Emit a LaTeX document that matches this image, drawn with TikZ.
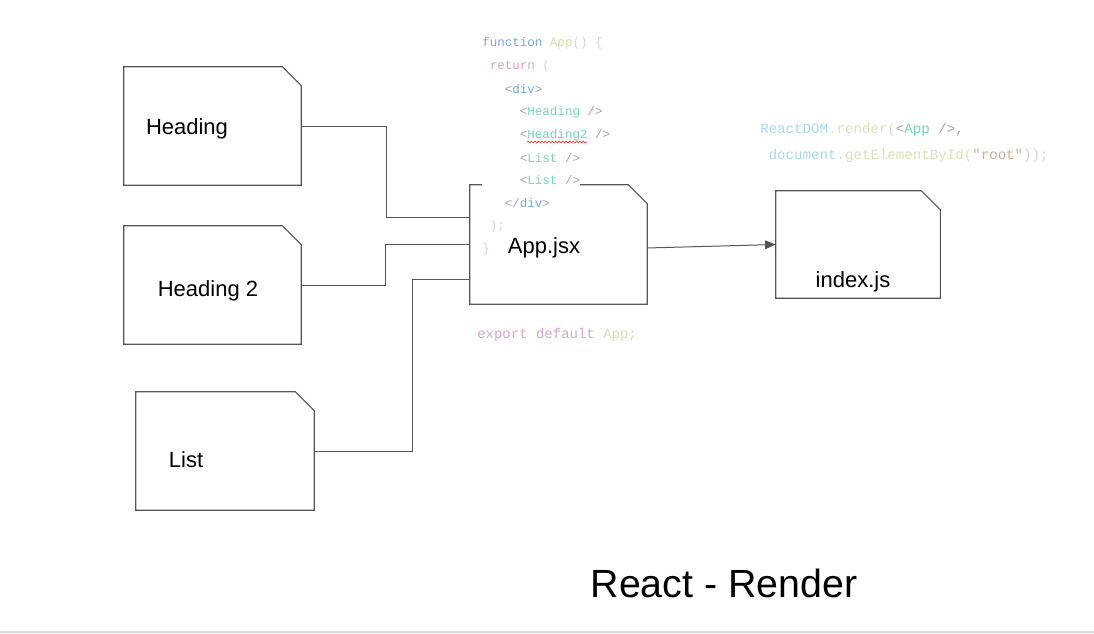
\documentclass[tikz,border=0pt]{standalone}
\usepackage{fontspec}
\setmainfont{Liberation Sans}
\newfontfamily\codefont{Liberation Mono}
\usetikzlibrary{arrows.meta,decorations.pathmorphing}
\definecolor{edgecol}{HTML}{555555}
\definecolor{kwblue}{HTML}{78A9DE}
\definecolor{kwpink}{HTML}{D9A2D4}
\definecolor{appyel}{HTML}{D9DCAE}
\definecolor{tagteal}{HTML}{74D6BF}
\definecolor{punct}{HTML}{A5A5A5}
\definecolor{faint}{HTML}{D5D5D5}
\definecolor{domblue}{HTML}{A9D9F2}
\definecolor{fnyel}{HTML}{DFDFBA}
\definecolor{strcol}{HTML}{D9AA92}

\begin{document}
\begin{tikzpicture}[x=0.75pt,y=-0.75pt,
    doc/.style={minimum width=132.75pt,minimum height=88.5pt,inner sep=0pt},
    outline/.style={draw=edgecol,line width=0.8pt},
    boxlabel/.style={font=\fontsize{16.5}{18}\selectfont},
    code/.style={anchor=west,fill=white,inner xsep=0pt,inner ysep=1pt,
        font=\codefont\fontsize{9.4}{11}\selectfont},
    wire/.style={draw=edgecol,line width=0.75pt}]
    \useasboundingbox (0,0) rectangle (1094,633);

    \node[doc] (heading) at (212.5,126) {};
    \node[doc] (headingtwo) at (212.5,285) {};
    \node[doc,minimum width=133.5pt] (list) at (225,451) {};
    \node[doc,minimum height=89.25pt] (app) at (558.5,244.5) {};
    \node[doc,minimum width=123pt,minimum height=80.25pt] (index) at (858,244.5) {};

    \foreach \n in {heading,headingtwo,list,app,index}
        \draw[outline] (\n.north west) -- ([xshift=-14.25pt]\n.north east)
            -- ([yshift=-14.25pt]\n.north east) -- (\n.south east)
            -- (\n.south west) -- cycle;

    \node[boxlabel] (headinglabel) at (187,129) {Heading};
    \node[boxlabel] (headingtwolabel) at (208,291) {Heading 2};
    \node[boxlabel] (listlabel) at (186,460) {List};
    \node[boxlabel] (applabel) at (544,248) {App.jsx};
    \node[boxlabel] (indexlabel) at (853,282) {index.js};

    \draw[wire] (heading.east) -- ++(85,0) |- ([yshift=19.9pt]app.west);
    \draw[wire] (headingtwo.east) -- ++(84,0) |- (app.west);
    \draw[wire] (list.east) -- ++(98,0) |- ([yshift=-26.6pt]app.west);
    \draw[wire,-{Triangle[length=8pt,width=6.5pt]}] ([yshift=-2.6pt]app.east) -- (index.west);

    \node[code] (c1) at (482,43) {\textcolor{kwblue}{function} \textcolor{appyel}{App}\textcolor{faint}{() \{}};
    \node[code] (c2) at (482,66) {\ \textcolor{kwpink}{return} \textcolor{faint}{(}};
    \node[code] (c3) at (482,89) {\ \ \ \textcolor{punct}{<}\textcolor{kwblue}{div}\textcolor{punct}{>}};
    \node[code] (c4) at (482,112) {\ \ \ \ \ \textcolor{punct}{<}\textcolor{tagteal}{Heading} \textcolor{punct}{/>}};
    \node[code] (c5) at (482,135) {\ \ \ \ \ \textcolor{punct}{<}\textcolor{tagteal}{Heading2} \textcolor{punct}{/>}};
    \node[code] (c6) at (482,158) {\ \ \ \ \ \textcolor{punct}{<}\textcolor{tagteal}{List} \textcolor{punct}{/>}};
    \node[code] (c7) at (482,180) {\ \ \ \ \ \textcolor{punct}{<}\textcolor{tagteal}{List} \textcolor{punct}{/>}};
    \node[code] (c8) at (482,203) {\ \ \ \textcolor{punct}{</}\textcolor{kwblue}{div}\textcolor{punct}{>}};
    \node[code] (c9) at (482,226) {\ \textcolor{faint}{);}};
    \node[code] (c10) at (482,249) {\textcolor{faint}{\}}};
    \draw[red!80,line width=0.5pt,decorate,decoration={snake,amplitude=0.7pt,segment length=2.6pt}]
        (527,142) -- (587,142);

    \node[code,font=\codefont\fontsize{10.5}{12}\selectfont] (exportline) at (477,335)
        {\textcolor{kwpink}{export default} \textcolor{appyel}{App;}};

    \node[code,font=\codefont\fontsize{10.6}{12}\selectfont] (render1) at (760,130)
        {\textcolor{domblue}{ReactDOM}\textcolor{fnyel}{.render(}\textcolor{punct}{<}\textcolor{tagteal}{App} \textcolor{punct}{/>,}};
    \node[code,font=\codefont\fontsize{10.6}{12}\selectfont] (render2) at (760,156)
        {\ \textcolor{domblue}{document}\textcolor{fnyel}{.getElementById(}\textcolor{strcol}{"root"}\textcolor{faint}{));}};

    \node[font=\fontsize{29.5}{32}\selectfont] (title) at (724,583) {React - Render};

    \draw[draw=faint,line width=1.5pt] (0,632) -- (1094,632);
\end{tikzpicture}
\end{document}
